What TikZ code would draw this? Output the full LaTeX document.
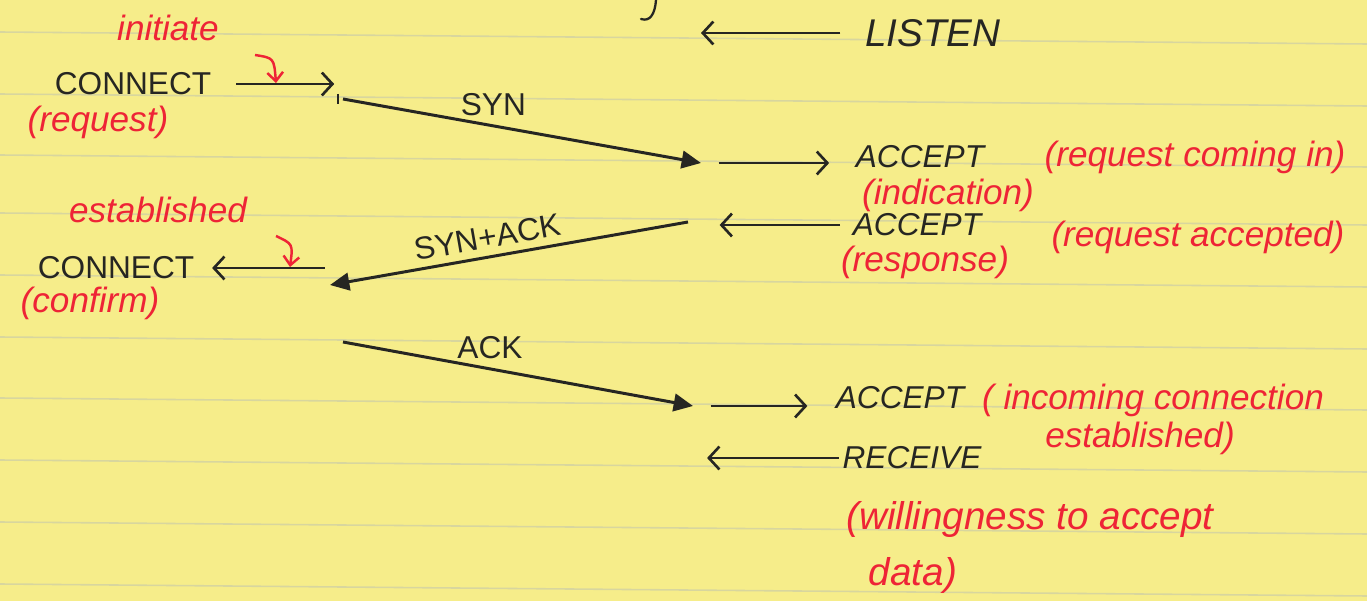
\documentclass[tikz,border=0pt]{standalone}
\usepackage{fontspec}
\setmainfont{Liberation Sans}
\usepackage{tikz}
\usetikzlibrary{arrows.meta}
\usetikzlibrary{calc}
\usetikzlibrary{positioning}

\definecolor{pad}{RGB}{246,237,138}
\definecolor{rule}{RGB}{216,214,158}
\definecolor{ink}{RGB}{38,38,34}
\definecolor{pen}{RGB}{238,36,54}

\tikzset{
  lbl/.style={text=ink, inner sep=0pt, font=\fontsize{18}{20}\selectfont\itshape},
  lblup/.style={lbl, font=\fontsize{18}{20}\selectfont},
  note/.style={text=pen, inner sep=0pt, font=\fontsize{20}{22}\selectfont\itshape},
  call/.style={draw=ink, line width=1.5pt, -{Straight Barb[length=6pt,width=13pt]}},
  msg/.style={draw=ink, line width=1.7pt, -{Triangle[length=11pt,width=10pt]}},
  hint/.style={draw=pen, line width=1.4pt, -{Straight Barb[length=5pt,width=9pt]}}
}

\begin{document}
\begin{tikzpicture}[x=0.02cm, y=-0.02cm]
  % yellow pad
  \fill[pad] (0,0) rectangle (1367,601);
  \useasboundingbox (0,0) rectangle (1367,601);
  \foreach \y in {32,94,155,213,275,337,398,460,522,584} {
    \draw[rule, line width=0.9pt] (0,\y) -- (1367,\y+12);
  }

  % stroke of a letter cut off at the top
  \draw[ink, line width=1.3pt, line cap=round] (656,0) .. controls (655,14) and (650,22) .. (641,19);

  % end points of the segments
  \coordinate (synA) at (343,99);
  \coordinate (synB) at (701,163);
  \coordinate (sackA) at (688,222);
  \coordinate (sackB) at (330,285);
  \coordinate (ackA) at (343,342);
  \coordinate (ackB) at (693,406);

  % client side
  \node[note] (initiate) at (168,28) {initiate};
  \node[lblup] (conreq) at (133,84) {CONNECT};
  \node[note] (request) at (98,122) {(request)};
  \node[note] (established) at (158,210) {established};
  \node[lblup] (concnf) at (116,268) {CONNECT};
  \node[note] (confirm) at (90,303) {(confirm)};

  % server side
  \node[lbl, font=\fontsize{22}{24}\selectfont\itshape] (listen) at (933,33) {LISTEN};
  \node[lbl] (accind) at (920,157) {ACCEPT};
  \node[note] (indication) at (948,195) {(indication)};
  \node[note] (coming) at (1195,157) {(request coming in)};
  \node[lbl] (accresp) at (917,225) {ACCEPT};
  \node[note] (response) at (925,262) {(response)};
  \node[note] (accepted) at (1198,237) {(request accepted)};
  \node[lbl] (accest) at (900,398) {ACCEPT};
  \node[note] (incoming) at (1153,400) {( incoming connection};
  \node[note] (estab) at (1140,438) {established)};
  \node[lbl] (receive) at (912,458) {RECEIVE};
  \node[note, font=\fontsize{22}{24}\selectfont\itshape] (willing) at (1030,520) {(willingness to accept};
  \node[note, font=\fontsize{22}{24}\selectfont\itshape] (data) at (913,575) {data)};

  % segments on the wire
  \draw[msg] (synA) -- (synB) node[pos=.42, above=5pt, lblup] {SYN};
  \draw[msg] (sackA) -- (sackB) node[pos=.55, sloped, above=4pt, lblup] {SYN+ACK};
  \draw[msg] (ackA) -- (ackB) node[pos=.42, above=5pt, lblup] {ACK};
  \draw[ink, line width=1.2pt] ($(synA)+(-5,-5)$) -- ($(synA)+(-5,5)$);

  % primitives
  \draw[call, shorten <=14pt, shorten >=5pt] (conreq.east) -- (conreq.east -| synA);
  \draw[call, shorten <=3pt, shorten >=10pt] (concnf.east -| sackB) -- (concnf.east);
  \draw[call, shorten <=14pt] (listen.west) -- (listen.west -| synB);
  \draw[call, shorten <=10pt, shorten >=15pt] (synB) -- (synB -| accind.west);
  \draw[call, shorten <=7pt, shorten >=18pt] (accresp.west) -- (accresp.west -| sackA);
  \draw[call, shorten <=10pt, shorten >=16pt] (ackB) -- (ackB -| accest.west);
  \draw[call, shorten <=2pt, shorten >=8pt] (receive.west) -- (receive.west -| ackB);

  % red hints
  \coordinate (initA) at (255,55);
  \coordinate (initB) at (276,83);
  \draw[hint] (initA) .. controls (274,58) .. (initB);
  \coordinate (estA) at (276,236);
  \coordinate (estB) at (290,267);
  \draw[hint] (estA) .. controls (293,244) .. (estB);
\end{tikzpicture}
\end{document}
